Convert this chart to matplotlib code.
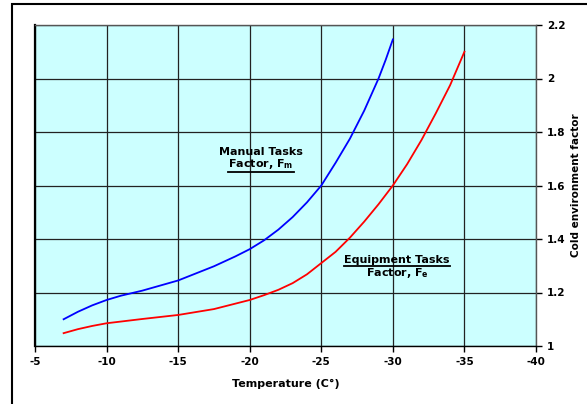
import matplotlib.pyplot as plt
import matplotlib.patches as patches
from matplotlib.lines import Line2D

# temperatures (deg C) and cold environment factors
temp_manual = [-7, -8, -9, -10, -11, -12.5, -15, -17.5, -19, -20, -21, -22, -23, -24,
               -25, -26, -27, -28, -29, -29.5, -30]
f_manual = [1.10, 1.128, 1.152, 1.172, 1.188, 1.207, 1.245, 1.298, 1.335, 1.362, 1.395, 1.435,
            1.482, 1.537, 1.60, 1.685, 1.775, 1.88, 2.0, 2.07, 2.146]

temp_equip = [-7, -8, -9, -10, -12.5, -15, -17.5, -20, -21, -22, -23, -24, -25, -26,
              -27, -28, -29, -30, -31, -32, -33, -34, -35]
f_equip = [1.048, 1.063, 1.075, 1.085, 1.101, 1.116, 1.138, 1.172, 1.19, 1.21, 1.235, 1.268,
           1.31, 1.352, 1.405, 1.465, 1.53, 1.60, 1.68, 1.77, 1.87, 1.975, 2.10]

xticks = [-5, -10, -15, -20, -25, -30, -35, -40]
yticks = [1, 1.2, 1.4, 1.6, 1.8, 2, 2.2]

fig = plt.figure(figsize=(5.87, 4.04), dpi=100)
ax = fig.add_axes([35/587, 1-346/404, (536-35)/587, (346-25)/404])
ax.set_facecolor('#CCFFFF')

ax.plot(temp_manual, f_manual, color='#0000FF', lw=1.3)
ax.plot(temp_equip, f_equip, color='#FF0000', lw=1.3)

ax.set_xlim(-5, -40)
ax.set_ylim(1, 2.2)
ax.set_xticks(xticks)
ax.set_yticks(yticks)
ax.set_xticklabels([str(t) for t in xticks], fontsize=7.5, fontweight='bold')
ax.set_yticklabels([f'{v:g}' for v in yticks], fontsize=7.5, fontweight='bold')
ax.yaxis.tick_right()
ax.tick_params(direction='out', length=4, width=1, pad=4)
ax.grid(True, color='#222222', lw=0.9)
for s in ax.spines.values():
    s.set_linewidth(1.0)
    s.set_color('#555555')
ax.spines['left'].set_linewidth(1.6)
ax.spines['left'].set_color('black')
ax.spines['bottom'].set_color('black')

ax.set_xlabel('Temperature (C°)', fontsize=8, fontweight='bold')
ax.xaxis.set_label_coords(0.5, -33/321)
ax.set_ylabel('Cold environment factor', fontsize=7.5, fontweight='bold', rotation=90)
ax.yaxis.set_label_coords(1 + 45/501, 0.5)

ax.text(-20.8, 1.715, 'Manual Tasks', fontsize=8, fontweight='bold', ha='center')
t1 = ax.text(-20.8, 1.67, 'Factor, F$_\\mathbf{m}$', fontsize=8, fontweight='bold', ha='center')
t2 = ax.text(-30.3, 1.31, 'Equipment Tasks', fontsize=8, fontweight='bold', ha='center')
ax.text(-30.3, 1.26, 'Factor, F$_\\mathbf{e}$', fontsize=8, fontweight='bold', ha='center')

# underline two of the labels
fig.canvas.draw()
inv = fig.transFigure.inverted()
for t in (t1, t2):
    bb = t.get_window_extent()
    (x0, y0), (x1, _) = inv.transform([(bb.x0, bb.y0 - 1), (bb.x1, bb.y0)])
    fig.add_artist(Line2D([x0, x1], [y0, y0], color='black', lw=1.3, transform=fig.transFigure))

# outer chart border running off the right and bottom edges
fig.patches.append(patches.Rectangle((12/587, -0.05), 1.0, 1-4/404+0.05, transform=fig.transFigure,
                                     fill=False, edgecolor='black', lw=1.5))

fig.savefig('out.png', dpi=100)
